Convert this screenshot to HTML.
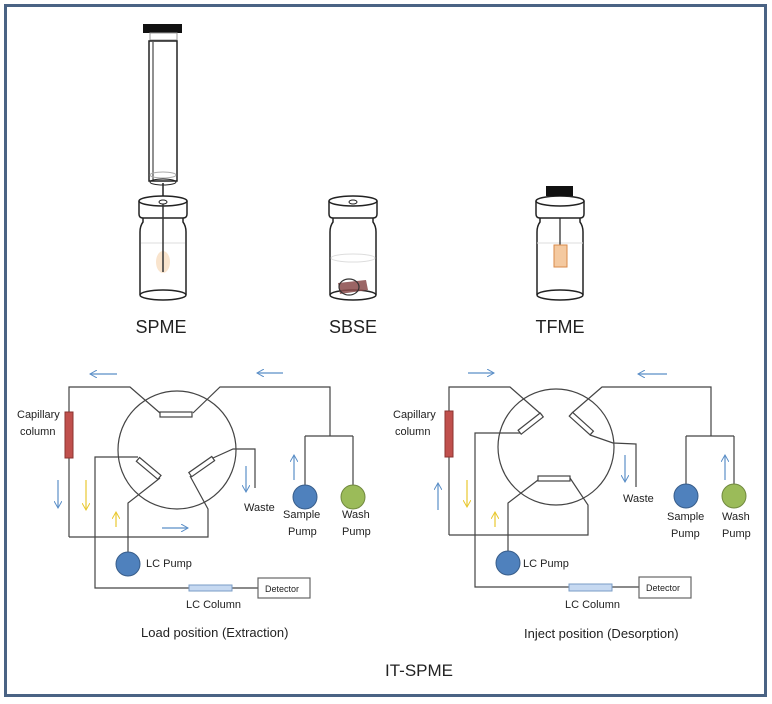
<!DOCTYPE html>
<html><head><meta charset="utf-8"><style>
html,body{margin:0;padding:0;background:#fff}
svg{display:block}
text{font-family:"Liberation Sans",sans-serif;fill:#222}
</style></head><body>
<svg width="772" height="704" viewBox="0 0 772 704" xmlns="http://www.w3.org/2000/svg">
<defs>
<marker id="ab" markerWidth="8" markerHeight="8" refX="7" refY="4" orient="auto" markerUnits="userSpaceOnUse"><path d="M0,0 L7,4 L0,8" fill="none" stroke="#5b8fc7" stroke-width="1"/></marker>
<marker id="ay" markerWidth="8" markerHeight="8" refX="7" refY="4" orient="auto" markerUnits="userSpaceOnUse"><path d="M0,0 L7,4 L0,8" fill="none" stroke="#e8c830" stroke-width="1"/></marker>
<g id="vial">
<path d="M-20,217 L-20,222 Q-23,226 -23,232 L-23,295 M20,217 L20,222 Q23,226 23,232 L23,295" fill="none" stroke="#222" stroke-width="1.5"/>
<ellipse cx="0" cy="295" rx="23" ry="5" fill="none" stroke="#222" stroke-width="1.5"/>
<path d="M-24,201 L-24,214 Q-24,218 -20,218 L20,218 Q24,218 24,214 L24,201" fill="#fff" stroke="#222" stroke-width="1.5"/>
<ellipse cx="0" cy="201" rx="24" ry="5" fill="#fff" stroke="#222" stroke-width="1.5"/>
</g>
</defs>
<rect x="5.5" y="5.5" width="760" height="690" fill="#fff" stroke="#4a6384" stroke-width="3"/>

<!-- SPME -->
<rect x="143" y="24" width="39" height="9" fill="#111"/>
<rect x="150" y="33" width="27" height="7" fill="none" stroke="#999" stroke-width="1"/>
<rect x="149" y="41" width="28" height="140" fill="none" stroke="#222" stroke-width="1.5"/>
<line x1="153" y1="42" x2="153" y2="180" stroke="#222" stroke-width="1"/>
<ellipse cx="163" cy="175" rx="13" ry="3" fill="none" stroke="#aaa"/>
<ellipse cx="163" cy="182" rx="13" ry="3" fill="none" stroke="#222"/>
<line x1="163" y1="183" x2="163" y2="198" stroke="#222" stroke-width="1.5"/>
<use href="#vial" x="163"/>
<ellipse cx="163" cy="202" rx="4" ry="2" fill="none" stroke="#222"/>
<line x1="141" y1="243" x2="185" y2="243" stroke="#ddd"/>
<ellipse cx="163" cy="262" rx="7" ry="11" fill="#f6d8b8" opacity="0.7"/>
<line x1="163" y1="204" x2="163" y2="272" stroke="#333" stroke-width="1.5"/>
<!-- SBSE -->
<use href="#vial" x="353"/>
<ellipse cx="353" cy="202" rx="4" ry="2" fill="none" stroke="#222"/>
<ellipse cx="353" cy="258" rx="22" ry="4" fill="none" stroke="#ddd"/>
<path d="M338,283 L366,280 L368,290 L340,294 Z" fill="#8a4a4a" opacity="0.85"/>
<ellipse cx="349" cy="287" rx="10" ry="8" fill="none" stroke="#333" stroke-width="1.2"/>
<!-- TFME -->
<use href="#vial" x="560"/>
<rect x="546" y="186" width="27" height="10" fill="#111"/>
<line x1="537" y1="243" x2="583" y2="243" stroke="#ddd"/>
<line x1="560" y1="218" x2="560" y2="258" stroke="#222" stroke-width="1.2"/>
<rect x="554" y="245" width="13" height="22" fill="#f4c9a0" stroke="#d98a4a"/>

<text x="161" y="333" font-size="18" text-anchor="middle">SPME</text>
<text x="353" y="333" font-size="18" text-anchor="middle">SBSE</text>
<text x="560" y="333" font-size="18" text-anchor="middle">TFME</text>

<!-- LEFT DIAGRAM -->
<g fill="none" stroke="#444" stroke-width="1.2">
<circle cx="177" cy="450" r="59"/>
<polyline points="69,537 69,387 130,387 160,413"/>
<polyline points="193,413 220,387 330,387 330,436"/>
<line x1="305" y1="436" x2="353" y2="436"/>
<line x1="305" y1="436" x2="305" y2="486"/>
<line x1="353" y1="436" x2="353" y2="486"/>
<polyline points="69,537 208,537 208,509 190,476"/>
<polyline points="213,458 233,449 255,449 255,488"/>
<polyline points="138,457 95,457 95,588 189,588"/>
<polyline points="160,478 128,503 128,553"/>
<line x1="232" y1="588" x2="258" y2="588"/>
<rect x="258" y="578" width="52" height="20" stroke="#666"/>
<rect x="160" y="412" width="32" height="5" fill="#fff"/>
<rect x="135" y="466" width="28" height="5" fill="#fff" transform="rotate(40 149 468)"/>
<rect x="188" y="464" width="28" height="5" fill="#fff" transform="rotate(-35 202 467)"/>
</g>
<rect x="65" y="412" width="8" height="46" fill="#c0504d" stroke="#8b3330"/>
<rect x="189" y="585" width="43" height="6" fill="#c6d9f1" stroke="#7a9cc6"/>
<circle cx="305" cy="497" r="12" fill="#4f81bd" stroke="#385d8a"/>
<circle cx="353" cy="497" r="12" fill="#9bbb59" stroke="#71893f"/>
<circle cx="128" cy="564" r="12" fill="#4f81bd" stroke="#385d8a"/>
<g stroke-width="1.2">
<line x1="117" y1="374" x2="90" y2="374" stroke="#5b8fc7" marker-end="url(#ab)"/>
<line x1="283" y1="373" x2="257" y2="373" stroke="#5b8fc7" marker-end="url(#ab)"/>
<line x1="58" y1="480" x2="58" y2="508" stroke="#5b8fc7" marker-end="url(#ab)"/>
<line x1="86" y1="480" x2="86" y2="510" stroke="#e8c830" marker-end="url(#ay)"/>
<line x1="116" y1="527" x2="116" y2="512" stroke="#e8c830" marker-end="url(#ay)"/>
<line x1="162" y1="528" x2="188" y2="528" stroke="#5b8fc7" marker-end="url(#ab)"/>
<line x1="246" y1="466" x2="246" y2="492" stroke="#5b8fc7" marker-end="url(#ab)"/>
<line x1="294" y1="480" x2="294" y2="455" stroke="#5b8fc7" marker-end="url(#ab)"/>
</g>
<g font-size="11">
<text x="17" y="418">Capillary</text><text x="20" y="435">column</text>
<text x="244" y="511">Waste</text>
<text x="283" y="518">Sample</text><text x="288" y="535">Pump</text>
<text x="342" y="518">Wash</text><text x="342" y="535">Pump</text>
<text x="146" y="567">LC Pump</text>
<text x="186" y="608">LC Column</text>
<text x="265" y="592" font-size="9" fill="#666">Detector</text>
</g>
<text x="141" y="637" font-size="13">Load position (Extraction)</text>

<!-- RIGHT DIAGRAM -->
<g fill="none" stroke="#444" stroke-width="1.2">
<circle cx="556" cy="447" r="58"/>
<polyline points="449,535 449,387 510,387 542,415"/>
<polyline points="572,413 602,387 711,387 711,436"/>
<line x1="686" y1="436" x2="734" y2="436"/>
<line x1="686" y1="436" x2="686" y2="485"/>
<line x1="734" y1="436" x2="734" y2="485"/>
<polyline points="590,435 613,443 636,444 636,487"/>
<polyline points="520,433 475,433 475,587 569,587"/>
<polyline points="538,480 508,503 508,552"/>
<polyline points="570,478 588,505 588,535 449,535"/>
<line x1="612" y1="587" x2="639" y2="587"/>
<rect x="639" y="577" width="52" height="21" stroke="#666"/>
<rect x="538" y="476" width="32" height="5" fill="#fff"/>
<rect x="517" y="421" width="28" height="5" fill="#fff" transform="rotate(-38 531 424)"/>
<rect x="567" y="421" width="28" height="5" fill="#fff" transform="rotate(42 581 424)"/>
</g>
<rect x="445" y="411" width="8" height="46" fill="#c0504d" stroke="#8b3330"/>
<rect x="569" y="584" width="43" height="7" fill="#c6d9f1" stroke="#7a9cc6"/>
<circle cx="686" cy="496" r="12" fill="#4f81bd" stroke="#385d8a"/>
<circle cx="734" cy="496" r="12" fill="#9bbb59" stroke="#71893f"/>
<circle cx="508" cy="563" r="12" fill="#4f81bd" stroke="#385d8a"/>
<g stroke-width="1.2">
<line x1="468" y1="373" x2="494" y2="373" stroke="#5b8fc7" marker-end="url(#ab)"/>
<line x1="667" y1="374" x2="638" y2="374" stroke="#5b8fc7" marker-end="url(#ab)"/>
<line x1="438" y1="510" x2="438" y2="483" stroke="#5b8fc7" marker-end="url(#ab)"/>
<line x1="467" y1="480" x2="467" y2="507" stroke="#e8c830" marker-end="url(#ay)"/>
<line x1="495" y1="527" x2="495" y2="512" stroke="#e8c830" marker-end="url(#ay)"/>
<line x1="625" y1="455" x2="625" y2="482" stroke="#5b8fc7" marker-end="url(#ab)"/>
<line x1="725" y1="480" x2="725" y2="455" stroke="#5b8fc7" marker-end="url(#ab)"/>
</g>
<g font-size="11">
<text x="393" y="418">Capillary</text><text x="395" y="435">column</text>
<text x="623" y="502">Waste</text>
<text x="667" y="520">Sample</text><text x="671" y="537">Pump</text>
<text x="722" y="520">Wash</text><text x="722" y="537">Pump</text>
<text x="523" y="567">LC Pump</text>
<text x="565" y="608">LC Column</text>
<text x="646" y="591" font-size="9" fill="#666">Detector</text>
</g>
<text x="524" y="638" font-size="13">Inject position (Desorption)</text>
<text x="385" y="676" font-size="17">IT-SPME</text>
</svg>
</body></html>
